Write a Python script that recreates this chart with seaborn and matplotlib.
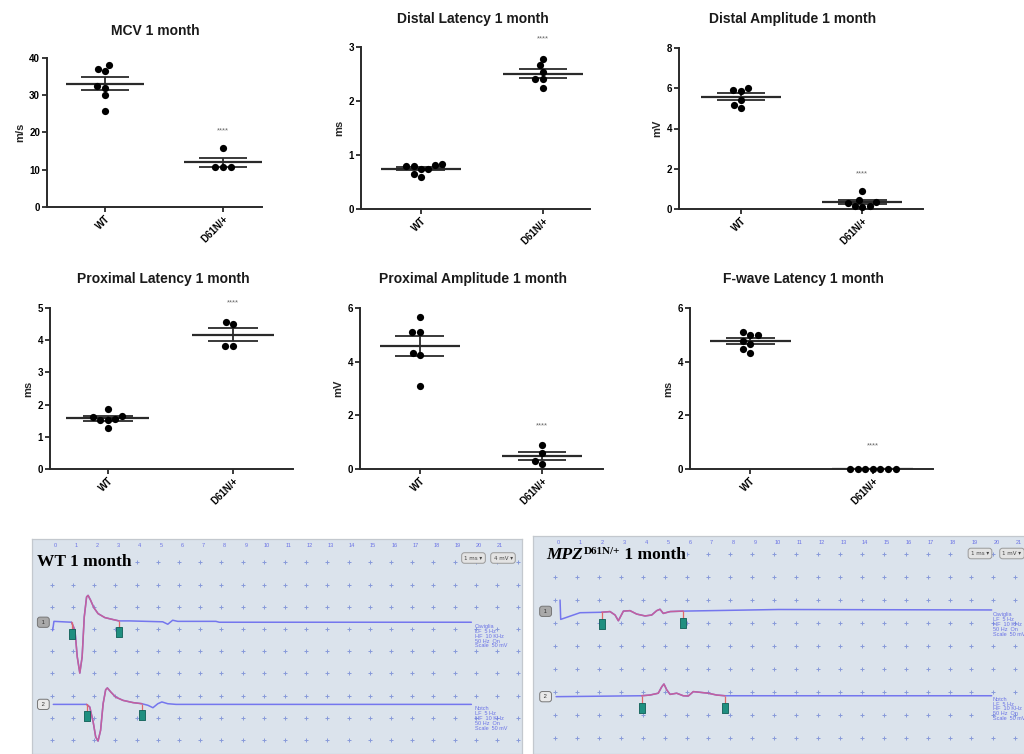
import numpy as np
import pandas as pd
import matplotlib
matplotlib.use("Agg")
import matplotlib.pyplot as plt
import seaborn as sns
from matplotlib.offsetbox import TextArea, HPacker, AnnotationBbox

# ---------------- data ----------------
groups = ["WT", "D61N/+"]

mcv_wt = [36.9, 36.4, 38.0, 32.4, 32.0, 30.0, 25.7]
mcv_mut = [15.7, 10.7, 10.7, 10.7]
dlat_wt = [0.80, 0.82, 0.80, 0.84, 0.75, 0.60, 0.65, 0.74]
dlat_mut = [2.78, 2.66, 2.54, 2.40, 2.40, 2.24]
damp_wt = [5.93, 5.87, 6.02, 5.40, 5.04, 5.16]
damp_mut = [0.91, 0.36, 0.45, 0.31, 0.15, 0.12, 0.15]
plat_wt = [1.55, 1.65, 1.62, 1.86, 1.52, 1.52, 1.28]
plat_mut = [4.57, 4.51, 3.81, 3.81]
pamp_wt = [5.67, 5.11, 5.11, 4.33, 4.26, 3.10]
pamp_mut = [0.89, 0.58, 0.30, 0.19]
fwave_wt = [5.11, 4.98, 4.98, 4.76, 4.67, 4.33, 4.46]
fwave_mut = [0, 0, 0, 0, 0, 0, 0]

titles = ["MCV 1 month", "Distal Latency 1 month", "Distal Amplitude 1 month",
          "Proximal Latency 1 month", "Proximal Amplitude 1 month", "F-wave Latency 1 month"]
ylabels = ["m/s", "ms", "mV", "ms", "mV", "ms"]
ytick_max = [40, 3, 8, 5, 6, 6]
ytick_step = [10, 1, 2, 1, 2, 2]
star_label = "****"
star_y = [20.5, 3.15, 1.75, 5.15, 1.6, 0.85]

# EMG traces: time (ms) and vertical position (grid divisions)
wt_top_ms = [-0.11, -0.05, 0.78, 0.94, 1.05, 1.17, 1.28, 1.38, 1.49, 1.56, 1.68, 1.83,
             2.03, 2.35, 2.74, 3.02, 3.52, 5.08, 5.32, 5.55, 5.79, 7.59, 7.75, 19.64]
wt_top_div = [-3.06, -2.66, -2.70, -3.06, -4.26, -4.99, -4.26, -2.46, -1.56, -1.49, -1.71, -2.04,
              -2.31, -2.49, -2.58, -2.64, -2.64, -2.68, -2.79, -2.61, -2.66, -2.66, -2.70, -2.70]
wt_top_marks = [0.78, 3.02]

wt_bot_ms = [-0.08, 1.49, 1.64, 1.80, 1.92, 2.03, 2.15, 2.27, 2.39, 2.47, 2.63, 2.86,
             3.21, 3.68, 4.10, 4.38, 4.62, 4.85, 5.04, 5.32, 5.71, 19.64]
wt_bot_div = [-6.40, -6.40, -6.52, -7.19, -7.87, -8.05, -7.57, -6.37, -5.74, -5.66, -5.84, -6.07,
              -6.22, -6.32, -6.37, -6.44, -6.55, -6.37, -6.29, -6.37, -6.40, -6.40]
wt_bot_marks = [1.49, 4.10]

mpz_top_ms = [0.08, 0.11, 0.99, 1.98, 2.36, 2.59, 2.74, 2.97, 3.27, 3.58, 3.96, 4.26,
              4.49, 4.64, 4.79, 5.10, 5.70, 10.04, 19.77]
mpz_top_div = [-1.99, -2.83, -2.54, -2.52, -2.49, -2.64, -2.89, -2.47, -2.45, -2.60, -2.68, -2.64,
               -2.45, -2.39, -2.57, -2.49, -2.47, -2.40, -2.42]
mpz_top_marks = [1.98, 5.70]

mpz_bot_ms = [-0.10, 3.80, 4.18, 4.56, 4.72, 4.82, 4.95, 5.10, 5.40, 5.70, 5.93, 6.16,
              6.46, 6.84, 7.23, 7.60, 19.77]
mpz_bot_div = [-6.19, -6.15, -6.12, -6.04, -5.76, -5.64, -5.90, -6.09, -6.04, -6.15, -6.16, -5.97,
               -6.00, -6.04, -6.12, -6.15, -6.15]
mpz_bot_marks = [3.80, 7.60]

emg_tick_labels = [str(k) for k in range(22)]
info_top = "Caviglia\nLF  5 Hz\nHF  10 KHz\n50 Hz  On\nScale  50 mV"
info_bot = "Notch\nLF  5 Hz\nHF  10 KHz\n50 Hz  On\nScale  50 mV"

# ---------------- style ----------------
sns.set_theme(style="ticks")
plt.rcParams["font.family"] = ["Liberation Sans", "DejaVu Sans"]

W, H = 1024, 754
fig = plt.figure(figsize=(W / 100, H / 100), dpi=100)
fig.patch.set_facecolor("white")


def add_ax(l, t, r, b):
    return fig.add_axes([l / W, 1 - b / H, (r - l) / W, (b - t) / H])


AXC = "#2a2a2a"
series = [(mcv_wt, mcv_mut), (dlat_wt, dlat_mut), (damp_wt, damp_mut),
          (plat_wt, plat_mut), (pamp_wt, pamp_mut), (fwave_wt, fwave_mut)]
panel_boxes = [(47, 57.7, 262, 207), (361, 47, 590, 209), (679, 48, 923, 209),
               (50, 308, 293, 469), (360, 308, 603, 469), (690, 308, 933, 469)]
panel_xlims = [(-0.49, 1.33), (-0.49, 1.385), (-0.51, 1.50),
               (-0.46, 1.48), (-0.49, 1.50), (-0.49, 1.49)]
title_pos = [(155, 31), (473, 19), (793, 19), (163, 279), (473, 279), (803, 279)]

for i in range(6):
    ax = add_ax(*panel_boxes[i])
    wt, mut = series[i]
    df = pd.DataFrame({"group": [groups[0]] * len(wt) + [groups[1]] * len(mut),
                       "value": list(wt) + list(mut)})
    sns.swarmplot(data=df, x="group", y="value", order=groups, color="black",
                  size=5.2, ax=ax, zorder=4, clip_on=False)
    stats = df.groupby("group")["value"].agg(["mean", "sem"]).reindex(groups)
    for j, g in enumerate(groups):
        m, s = stats.loc[g, "mean"], stats.loc[g, "sem"]
        ax.hlines(m, j - 0.33, j + 0.33, color=AXC, lw=1.6, zorder=3)
        ax.hlines([m - s, m + s], j - 0.2, j + 0.2, color=AXC, lw=1.3, zorder=3)
        ax.vlines(j, m - s, m + s, color=AXC, lw=1.3, zorder=3)
    ax.set_ylim(0, ytick_max[i])
    ax.set_yticks(np.arange(0, ytick_max[i] + ytick_step[i] / 2, ytick_step[i]))
    ax.set_xlim(*panel_xlims[i])
    ax.set_xticks([0, 1])
    ax.set_xticklabels(groups, rotation=45, ha="right", rotation_mode="anchor",
                       fontweight="bold", fontsize=7)
    for lbl in ax.get_yticklabels():
        lbl.set_fontweight("bold")
        lbl.set_fontsize(7)
    ax.set_xlabel("")
    ax.set_ylabel(ylabels[i], fontweight="bold", fontsize=8, labelpad=3)
    sns.despine(ax=ax)
    for sp in ("left", "bottom"):
        ax.spines[sp].set_linewidth(1.4)
        ax.spines[sp].set_color(AXC)
    ax.tick_params(axis="both", direction="out", length=3.5, width=1.3,
                   color=AXC, labelcolor="black", pad=1.5)
    ax.set_facecolor("none")
    ax.text(1, star_y[i], star_label, ha="center", va="center", fontsize=5.5, color="#666666")
    fig.text(title_pos[i][0] / W, 1 - title_pos[i][1] / H, titles[i], ha="center",
             va="center", fontsize=10, fontweight="bold", color="#1a1a1a")

# ---------------- EMG screenshots ----------------
BG = "#dbe3ec"
BLUE = "#7476ee"
PINK = "#c4609c"
RED = "#e06868"
TEAL = "#1f8f80"
DOTC = "#7f92d8"
TXTB = "#6a72e6"
rect_marker = [(-0.33, -0.5), (0.33, -0.5), (0.33, 0.5), (-0.33, 0.5), (-0.33, -0.5)]


def draw_trace(ax, ms, dv, marks):
    ms = np.asarray(ms, float)
    dv = np.asarray(dv, float)
    ax.plot(ms, dv, color=BLUE, lw=1.1, zorder=3, solid_joinstyle="round")
    sel = (ms >= marks[0]) & (ms <= marks[1])
    ax.plot(ms[sel], dv[sel], color=PINK, lw=1.1, zorder=4, solid_joinstyle="round")
    ym = np.interp(marks, ms, dv)
    ax.vlines(marks, ym - 0.32, ym, color=RED, lw=0.9, zorder=4)
    ax.plot(marks, ym - 0.52, ls="none", marker=rect_marker, ms=6.5, mfc=TEAL,
            mec="#0e5e55", mew=0.6, zorder=5)


def emg_panel(box, x0, pxms, row0, pxdiv, traces, chan_x, chan_y, info_x, info_y):
    l, t, r, b = box
    ax = add_ax(l, t, r, b)
    ax.set_facecolor(BG)
    ax.set_xlim((l - x0) / pxms, (r - x0) / pxms)
    ax.set_ylim(-(b - row0) / pxdiv, -(t - row0) / pxdiv)
    gx, gy = np.meshgrid(np.arange(0, 23) - 0.15, -np.arange(0, 9))
    ax.scatter(gx.ravel(), gy.ravel(), marker="+", s=5, lw=0.7, color=DOTC,
               alpha=0.9, zorder=1)
    for ms, dv, mk in traces:
        draw_trace(ax, ms, dv, mk)
    ax.set_xticks(range(len(emg_tick_labels)))
    ax.set_xticklabels(emg_tick_labels)
    ax.xaxis.tick_top()
    ax.tick_params(axis="x", length=0, labelsize=4, labelcolor=TXTB, pad=-6.5)
    ax.set_yticks([])
    for sp in ax.spines.values():
        sp.set_color("#c3c8ce")
        sp.set_linewidth(0.9)
    for k, (cy, fc) in enumerate(zip(chan_y, ["#a9a9a9", "#e9e9e9"])):
        ax.text(chan_x, cy, " %d " % (k + 1), ha="center", va="center", fontsize=4.2,
                color="#333333", zorder=6,
                bbox=dict(boxstyle="round,pad=0.45", fc=fc, ec="#777777", lw=0.7))
    for txt, iy in zip([info_top, info_bot], info_y):
        ax.text(info_x, iy, txt, ha="left", va="top", fontsize=4, color=TXTB,
                linespacing=0.95, zorder=6)
    return ax


ax_wt = emg_panel((31.7, 539.3, 522, 754), 55.0, 21.2, 562.3, 22.2,
                  [(wt_top_ms, wt_top_div, wt_top_marks), (wt_bot_ms, wt_bot_div, wt_bot_marks)],
                  -0.55, [-2.70, -6.40], 19.81, [-2.79, -6.49])
ax_mpz = emg_panel((533.3, 536, 1030, 754), 558.3, 21.92, 554.3, 23.0,
                   [(mpz_top_ms, mpz_top_div, mpz_top_marks), (mpz_bot_ms, mpz_bot_div, mpz_bot_marks)],
                   -0.58, [-2.48, -6.19], 19.82, [-2.53, -6.20])

# titles of the screenshots
ax_wt.text(36.7 / W, 1 - 561.7 / H, "WT 1 month", transform=fig.transFigure, ha="left",
           va="center", fontsize=12.5, fontweight="bold", family="Liberation Serif",
           color="black", zorder=7,
           bbox=dict(boxstyle="square,pad=0.1", fc=BG, ec="none"))
serif = dict(family="Liberation Serif", weight="bold", color="black")
parts = [TextArea("MPZ", textprops=dict(size=12.5, style="italic", **serif)),
         TextArea("D61N/+", textprops=dict(size=8.0, **serif)),
         TextArea(" 1 month", textprops=dict(size=12.5, **serif))]
pack = HPacker(children=parts, align="top", pad=0, sep=0)
ab = AnnotationBbox(pack, (546.7 / W, 1 - 555.0 / H), xycoords="figure fraction",
                    box_alignment=(0, 0.5), frameon=True, pad=0.1,
                    bboxprops=dict(fc=BG, ec="none"))
ab.set_zorder(7)
ax_mpz.add_artist(ab)

# scale selectors
for (cx, cy, lab) in [(473.5, 558, "1 ms \u25BE"), (503, 558, "4 mV \u25BE"),
                      (980, 553.5, "1 ms \u25BE"), (1012, 553.5, "1 mV \u25BE")]:
    fig.text(cx / W, 1 - cy / H, lab, ha="center", va="center", fontsize=4,
             family="DejaVu Sans", color="#444444", zorder=8,
             bbox=dict(boxstyle="round,pad=0.5", fc="#e3e3e3", ec="#9a9a9a", lw=0.7))

fig.savefig("out.png", dpi=100, facecolor="white")
